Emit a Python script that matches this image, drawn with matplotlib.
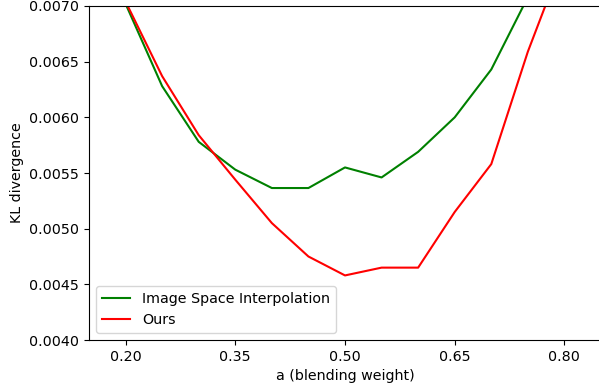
import matplotlib
matplotlib.use("Agg")
import matplotlib.pyplot as plt

plt.rcParams["font.size"] = 10.3

# blending weights
alphas = [0.20, 0.25, 0.30, 0.35, 0.40, 0.45, 0.50, 0.55, 0.60, 0.65, 0.70, 0.75, 0.80]

# KL divergence (points above 0.0070 are clipped)
image_space_kl = [0.00702, 0.00628, 0.00578, 0.00553, 0.005365, 0.005365, 0.00555,
                  0.00546, 0.00569, 0.00600, 0.00643, 0.00708, 0.00790]
ours_kl = [0.00704, 0.00637, 0.00584, 0.00544, 0.00505, 0.00475, 0.00458,
           0.00465, 0.00465, 0.00515, 0.00558, 0.00659, 0.00745]

xticks = [0.20, 0.35, 0.50, 0.65, 0.80]

fig = plt.figure(figsize=(5.99, 3.89), dpi=100)
ax = fig.add_axes([89 / 599, 1 - 340 / 389, 512 / 599, 334 / 389])

ax.plot(alphas, image_space_kl, color="green", label="Image Space Interpolation")
ax.plot(alphas, ours_kl, color="red", label="Ours")

ax.set_xlim(0.15, 0.85)
ax.set_ylim(0.0040, 0.0070)
ax.set_xticks(xticks)
ax.set_xticklabels(["%.2f" % t for t in xticks])
ax.set_yticks([0.0040, 0.0045, 0.0050, 0.0055, 0.0060, 0.0065, 0.0070])
ax.set_yticklabels(["%.4f" % t for t in ax.get_yticks()])
ax.set_xlabel("a (blending weight)")
ax.set_ylabel("KL divergence")
ax.legend(loc="lower left")

fig.savefig("out.png", dpi=100)
